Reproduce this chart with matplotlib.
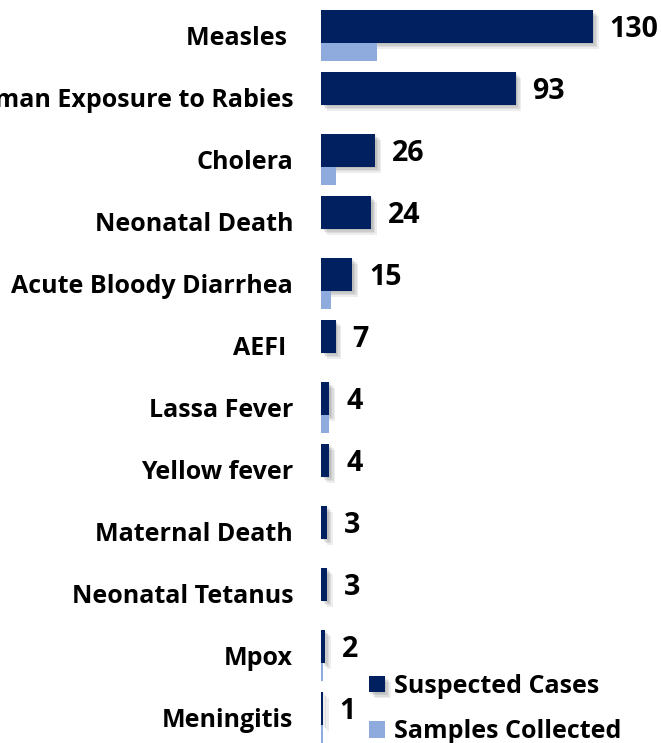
import matplotlib
matplotlib.use("Agg")
import matplotlib.pyplot as plt
import matplotlib.patheffects as pe
import numpy as np

# Data
diseases = ["Measles ", "Human Exposure to Rabies", "Cholera", "Neonatal Death",
            "Acute Bloody Diarrhea", "AEFI ", "Lassa Fever", "Yellow fever",
            "Maternal Death", "Neonatal Tetanus", "Mpox", "Meningitis"]
suspected = [130, 93, 26, 24, 15, 7, 4, 4, 3, 3, 2, 1]
samples = [27, 0, 7, 0, 5, 0, 4, 0, 0, 0, 1, 1]

dark = "#002060"
light = "#8FAADC"

plt.rcParams['font.family'] = ['Open Sans', 'DejaVu Sans']
plt.rcParams['font.weight'] = 'bold'

fig = plt.figure(figsize=(6.61, 7.43), dpi=100)
ax = fig.add_axes([321 / 661, 0, 340 / 661, 1])

y = np.arange(len(diseases))

# soft shadow on the dark bars
shadow = [pe.SimplePatchShadow(offset=(d, -d), shadow_rgbFace='black', alpha=0.07)
          for d in (1, 2, 3, 4)] + [pe.Normal()]

dark_bars = ax.barh(y - 0.145, suspected, height=0.532, color=dark, zorder=2,
                    label="Suspected Cases")
for b in dark_bars:
    b.set_path_effects(shadow)
ax.barh(y + 0.266, samples, height=0.29, color=light, zorder=3,
        label="Samples Collected")

for yi, v in zip(y, suspected):
    ax.annotate(str(v), (v, yi - 0.1), xytext=(12, 0), textcoords='offset points',
                va='center', ha='left', fontsize=20.5, fontweight='bold', color='black')

ax.set_xlim(0, 340 / (272 / 130))
ax.set_ylim(11 + 25.5 / 62, -0.5 - 4.5 / 62)
ax.set_yticks(y)
ax.set_yticklabels(diseases, fontsize=18, fontweight='bold', va='center_baseline')
ax.tick_params(axis='y', length=0, pad=20)
ax.set_xticks([])
for s in ax.spines.values():
    s.set_visible(False)

ax.legend(loc='upper left', bbox_to_anchor=(369 / 661, 1 - 674 / 743),
          bbox_transform=fig.transFigure, frameon=False,
          prop={'size': 18, 'weight': 'bold'},
          handlelength=0.64, handleheight=0.64, handletextpad=0.35,
          labelspacing=0.82, borderpad=0, borderaxespad=0)

fig.savefig("out.png", dpi=100)
